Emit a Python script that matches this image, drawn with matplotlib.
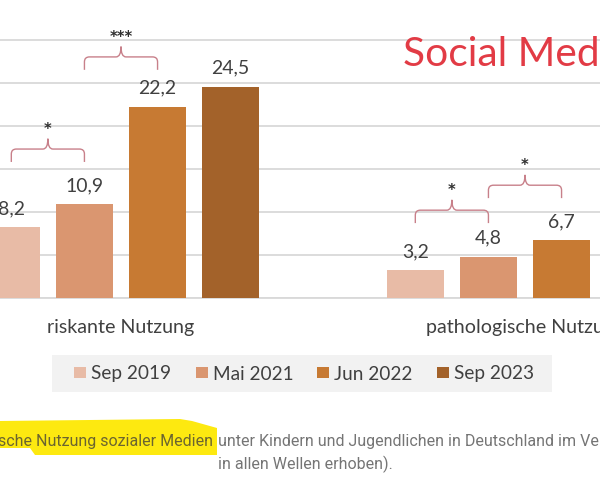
import matplotlib
matplotlib.use("Agg")
import matplotlib.pyplot as plt
import matplotlib.transforms as mtransforms
from matplotlib.path import Path
from matplotlib.patches import PathPatch, Rectangle, Polygon, Patch

# ---------------- data ----------------
categories = ["riskante Nutzung", "pathologische Nutzung"]
waves = ["Sep 2019", "Mai 2021", "Jun 2022", "Sep 2023"]
sep2019 = [8.2, 3.2]
mai2021 = [10.9, 4.8]
jun2022 = [22.2, 6.7]
sep2023 = [24.5, 4.7]
series = [sep2019, mai2021, jun2022, sep2023]

# significance comparisons: category index, wave a, wave b, stars
sig_category = [0, 0, 1, 1]
sig_from = [0, 1, 0, 1]
sig_to = [1, 2, 1, 2]
sig_stars = ["*", "***", "*", "*"]

title_text = "Social Media"
caption_highlight = "sche Nutzung sozialer Medien"
caption_line1 = "unter Kindern und Jugendlichen in Deutschland im Ver"
caption_line2 = "in allen Wellen erhoben)."

# ---------------- style / layout ----------------
colors = ["#e8bba6", "#da9670", "#c77a33", "#a3622a"]
sig_offset = [6.4, 5.8, 5.4, 6.4]   # bracket height above the taller bar
W, H = 600, 480
FONT = "Lato"
TXT = "#404040"

fig = plt.figure(figsize=(W / 100, H / 100), dpi=100)
fig.patch.set_facecolor("white")
R = fig.canvas.get_renderer()


def fx(x):
    return x / W


def fy(y):
    return 1 - y / H


def fit(t, target):
    w = t.get_window_extent(R).width
    t.set_fontsize(t.get_fontsize() * target / w)
    return t.get_fontsize()


base_px = 298
ax = fig.add_axes([0, fy(base_px), 1, base_px / H])
ax.set_xlim(-121 / 404, (W - 121) / 404)
ax.set_ylim(0, base_px / 8.61)
for s in ax.spines.values():
    s.set_visible(False)
ax.set_yticks(range(0, 35, 5))
ax.tick_params(length=0, labelleft=False, labelbottom=False)
ax.yaxis.grid(True, color="#d9d9d9", lw=1.3)
ax.set_axisbelow(True)
ax.axhline(0, color="#d9d9d9", lw=1.3, clip_on=False, zorder=0)
ax.set_facecolor("none")

pitch = 0.181
bw = 0.141
xs = list(range(len(categories)))
value_texts = []
for i, (vals, c, lab) in enumerate(zip(series, colors, waves)):
    pos = [x + (i - 1.5) * pitch for x in xs]
    bars = ax.bar(pos, vals, width=bw, color=c, label=lab, zorder=2)
    for b, v in zip(bars, vals):
        t = ax.annotate(f"{v:.1f}".replace(".", ","),
                        (b.get_x() + b.get_width() / 2, v),
                        xytext=(0, 13.5), textcoords="offset points",
                        ha="center", va="center", color=TXT,
                        family=FONT, fontsize=13, zorder=3)
        value_texts.append(t)

fs_val = fit(value_texts[6], 38)
for t in value_texts:
    t.set_fontsize(fs_val)

# significance brackets
brc = "#c8808a"
rx = 5 / 404
ry = 5 / 8.61
for cat, a, b, st, off in zip(sig_category, sig_from, sig_to, sig_stars, sig_offset):
    x0 = cat + (a - 1.5) * pitch
    x1 = cat + (b - 1.5) * pitch
    xm = (x0 + x1) / 2
    yh = max(series[a][cat], series[b][cat]) + off
    leg = 1.5
    peak = 1.2
    verts = [(x0, yh - leg), (x0, yh - ry), (x0, yh), (x0 + rx, yh),
             (xm - rx, yh), (xm, yh), (xm, yh + peak),
             (xm, yh), (xm + rx, yh),
             (x1 - rx, yh), (x1, yh), (x1, yh - ry), (x1, yh - leg)]
    codes = [Path.MOVETO, Path.LINETO, Path.CURVE3, Path.CURVE3,
             Path.LINETO, Path.CURVE3, Path.CURVE3,
             Path.CURVE3, Path.CURVE3,
             Path.LINETO, Path.CURVE3, Path.CURVE3, Path.LINETO]
    ax.add_patch(PathPatch(Path(verts, codes), fill=False, edgecolor=brc,
                           lw=1.0, zorder=3, clip_on=False))
    ax.text(xm, yh + 2.3, st, ha="center", va="center", color="#303030",
            family="DejaVu Sans", fontweight="bold", fontsize=10.5, zorder=3)

# category labels
blend = mtransforms.blended_transform_factory(ax.transData, fig.transFigure)
cat_texts = [ax.text(x, fy(328), c, transform=blend, ha="center", va="center",
                     color=TXT, family=FONT, fontsize=14)
             for x, c in zip(xs, categories)]
fs_cat = fit(cat_texts[0], 148)
for t in cat_texts:
    t.set_fontsize(fs_cat)

# red title
tt = fig.text(fx(403), fy(66), "Social Med", ha="left", va="baseline",
              color="#e23b45", family=FONT, fontsize=22)
fit(tt, 196)
tt.set_text(title_text)

# legend
fig.add_artist(Rectangle((fx(52), fy(392)), fx(500), 37 / H,
                         transform=fig.transFigure, facecolor="#f2f2f2",
                         edgecolor="none", zorder=0))
tmp = fig.text(0, 0, "Sep 2019", family=FONT, fontsize=14)
fs_leg = fit(tmp, 80)
tmp.remove()
handles = [Patch(facecolor=c, edgecolor="none") for c in colors]
fsp = fs_leg * 100 / 72
leg = fig.legend(handles, waves, loc="center",
                 bbox_to_anchor=(fx(304), fy(374)), ncol=4, frameon=False,
                 prop={"family": FONT, "size": fs_leg},
                 handlelength=12 / fsp, handleheight=12 / fsp * 0.85,
                 handletextpad=5 / fsp, columnspacing=24 / fsp,
                 borderpad=0, labelcolor=TXT)

# caption with highlight
fig.add_artist(Polygon([(fx(0), fy(421)), (fx(180), fy(419)), (fx(192), fy(421)),
                        (fx(217), fy(428)), (fx(217), fy(455)), (fx(35), fy(455)),
                        (fx(30), fy(448)), (fx(0), fy(448))],
                       closed=True, transform=fig.transFigure,
                       facecolor="#fde910", edgecolor="none", zorder=1))
c1 = fig.text(fx(218), fy(446), caption_line1, ha="left", va="baseline",
              family="Roboto", color="#757575", fontsize=11, zorder=2)
fs_cap = fit(c1, 382)
fig.text(fx(213), fy(446), caption_highlight, ha="right", va="baseline",
         family="Roboto", color="#6b6530", fontsize=fs_cap, zorder=2)
fig.text(fx(218), fy(469), caption_line2, ha="left", va="baseline",
         family="Roboto", color="#757575", fontsize=fs_cap, zorder=2)

fig.savefig("out.png", dpi=100)
